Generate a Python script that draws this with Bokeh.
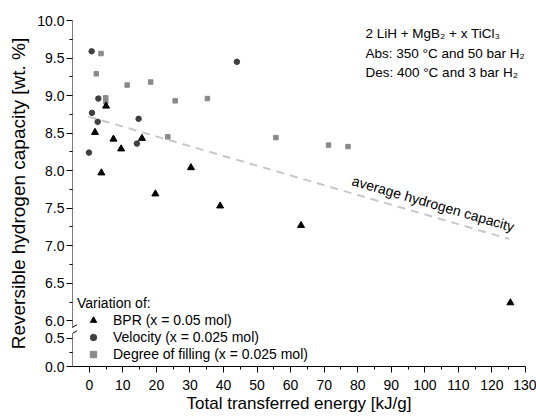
from bokeh.plotting import figure
from bokeh.models import Range1d, FixedTicker, Legend, LegendItem, Arrow, Label
from bokeh.embed import file_html
from bokeh.resources import INLINE

FONT = "Liberation Sans"

# ---------------- data ----------------
bpr_x = [1.7, 3.6, 5.0, 7.2, 9.5, 15.7, 19.7, 30.3, 39.0, 63.1, 125.5]
bpr_y = [8.51, 7.97, 8.86, 8.42, 8.29, 8.43, 7.69, 8.04, 7.53, 7.27, 6.24]

vel_x = [-0.1, 0.7, 0.8, 2.5, 2.7, 14.2, 14.7, 44.0]
vel_y = [8.24, 9.59, 8.77, 8.65, 8.96, 8.36, 8.69, 9.45]

fill_x = [2.1, 3.5, 4.9, 4.9, 11.3, 18.3, 23.4, 25.6, 35.2, 55.6, 71.3, 77.1]
fill_y = [9.29, 9.56, 8.97, 8.92, 9.14, 9.18, 8.45, 8.93, 8.96, 8.44, 8.34, 8.32]

avg_x = [-0.3, 125.1]
avg_y = [8.72, 7.09]

series_labels = ["BPR (x = 0.05 mol)", "Velocity (x = 0.025 mol)",
                 "Degree of filling (x = 0.025 mol)"]
legend_title = "Variation of:"
x_label = "Total transferred energy [kJ/g]"
y_label = "Reversible hydrogen capacity [wt. %]"
x_ticks = [0, 10, 20, 30, 40, 50, 60, 70, 80, 90, 100, 110, 120, 130]
y_ticks_upper = [6.0, 6.5, 7.0, 7.5, 8.0, 8.5, 9.0, 9.5, 10.0]
y_ticks_lower = [0.0, 0.5]
info_lines = ["2 LiH + MgB\u2082 + x TiCl\u2083",
              "Abs: 350 \u00b0C and 50 bar H\u2082",
              "Des: 400 \u00b0C and 3 bar H\u2082"]
avg_label = "average hydrogen capacity"

# ---------------- broken-axis mapping ----------------
Y0 = 5.391   # axis position of the value 0.0 in the lower segment
K = 0.758    # scale of the lower segment


def lower_pos(v):
    return round(Y0 + K * v, 4)


p = figure(width=536, height=416, output_backend="svg", toolbar_location=None,
           x_range=Range1d(-5, 130), y_range=Range1d(Y0, 10.0),
           min_border_left=72, min_border_right=11, min_border_top=20,
           min_border_bottom=50)
p.outline_line_color = None
p.grid.visible = False
p.background_fill_color = "white"
p.border_fill_color = "white"

xa = p.xaxis[0]
ya = p.yaxis[0]
xa.ticker = FixedTicker(ticks=x_ticks, minor_ticks=[t + 5 for t in x_ticks[:-1]])
xa.axis_label = x_label
for ax in (xa, ya):
    ax.major_tick_out = 6
    ax.major_tick_in = 0
    ax.minor_tick_out = 3
    ax.minor_tick_in = 0
    ax.major_tick_line_color = "black"
    ax.minor_tick_line_color = "black"
    ax.major_label_text_font = FONT
    ax.major_label_text_font_size = "14px"
    ax.major_label_text_color = "black"
    ax.axis_label_text_font = FONT
    ax.axis_label_text_font_style = "normal"
    ax.axis_label_text_color = "black"
xa.axis_label_text_font_size = "17px"
ya.axis_label_text_font_size = "19px"
xa.axis_line_color = "black"
xa.major_label_standoff = 7
xa.axis_label_standoff = 1

# y axis (broken)
up_minor = [t + 0.25 for t in y_ticks_upper[:-1]]
lo_minor = [lower_pos(0.25)]
tick_pos = y_ticks_upper + [lower_pos(v) for v in y_ticks_lower]
ya.ticker = FixedTicker(ticks=tick_pos, minor_ticks=up_minor + lo_minor)
overrides = {t: f"{t:.1f}" for t in y_ticks_upper}
for v in y_ticks_lower:
    overrides[lower_pos(v)] = f"{v:.1f}"
ya.major_label_overrides = overrides
ya.axis_line_color = None
ya.axis_label = y_label
ya.major_label_standoff = 2
ya.axis_label_standoff = 5

# spine pieces and break marks
for (x0, y0, x1, y1) in [(-5, Y0, -5, 5.827), (-5, 5.907, -5, 10.0),
                         (-7.25, 5.853, -3.67, 5.947), (-7.25, 5.773, -3.67, 5.867)]:
    p.add_layout(Arrow(x_start=x0, y_start=y0, x_end=x1, y_end=y1, end=None,
                       line_color="black", line_width=1))

# average line
p.line(avg_x, avg_y, line_color="#c8c8c8", line_width=2, line_dash="8 6")

r_fill = p.scatter(fill_x, fill_y, marker="square", size=4.5, color="#8a8a8a")
r_vel = p.scatter(vel_x, vel_y, marker="circle", size=5.5, color="#404040")
r_bpr = p.scatter(bpr_x, bpr_y, marker="triangle", size=7, color="black")

legend = Legend(items=[LegendItem(label=series_labels[0], renderers=[r_bpr]),
                       LegendItem(label=series_labels[1], renderers=[r_vel]),
                       LegendItem(label=series_labels[2], renderers=[r_fill])],
                title=legend_title, location=(5, 4))
legend.title_text_font = FONT
legend.title_text_font_size = "14px"
legend.title_text_font_style = "normal"
legend.title_text_color = "black"
legend.label_text_font = FONT
legend.label_text_font_size = "14px"
legend.label_text_color = "black"
legend.background_fill_alpha = 0
legend.border_line_color = None
legend.padding = 0
legend.margin = 0
legend.spacing = 1
legend.glyph_width = 32
legend.glyph_height = 16
legend.label_height = 16
legend.label_standoff = 4
legend.title_standoff = 1
p.add_layout(legend)

# annotations
for i, line in enumerate(info_lines):
    p.add_layout(Label(x=82.3, y=9.827 - i * 0.263, text=line, text_baseline="middle",
                       text_font=FONT, text_font_size="13.5px", text_color="black"))

p.add_layout(Label(x=102.5, y=7.56, text=avg_label, angle=-0.283, text_align="center",
                   text_baseline="middle", text_font=FONT, text_font_size="14px",
                   text_color="black"))

open("out.html", "w").write(file_html(p, INLINE))
